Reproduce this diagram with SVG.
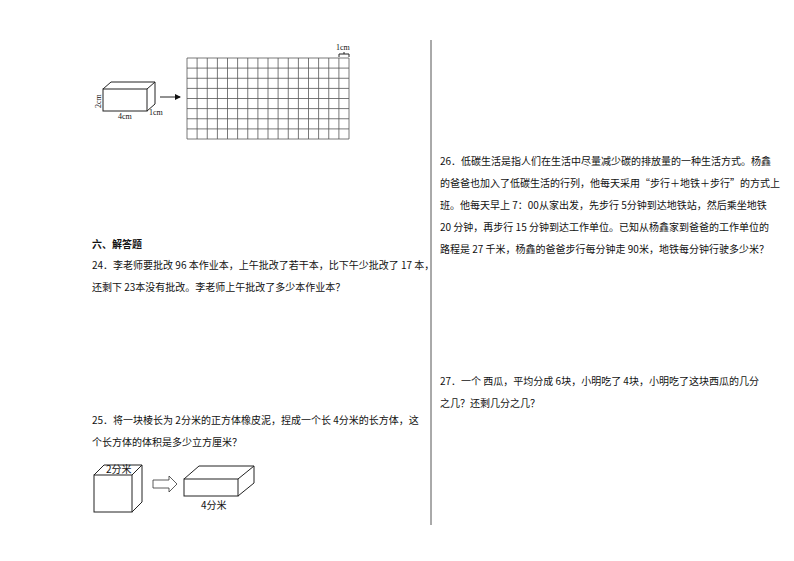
<svg xmlns="http://www.w3.org/2000/svg" width="794" height="561" viewBox="0 0 794 561">
<style>
text{font-family:"Noto Sans CJK SC","Liberation Serif",serif;font-size:10px;fill:#111}
.s{fill:none;stroke:#222;stroke-width:1}
.g{fill:none;stroke:#555;stroke-width:0.8}
.sm{font-family:"Liberation Serif",serif;font-size:8px}
</style>
<defs><marker id="a" markerWidth="6" markerHeight="6" refX="5" refY="3" orient="auto"><path d="M0,0L6,3L0,6z" fill="#111"/></marker></defs>
<rect width="794" height="561" fill="#fff"/>
<line x1="431" y1="40" x2="431" y2="525" stroke="#555" stroke-width="1"/>
<g id="box1"><rect x="103" y="89" width="44" height="22" class="s"/><path d="M103,89L111,82H155V104L147,111M147,89L155,82" class="s"/>
<text class="sm" x="118" y="119">4cm</text><text class="sm" x="149" y="115">1cm</text><text class="sm" transform="translate(101,108) rotate(-90)">2cm</text></g>
<g id="grid1"><path class="g" d="M187,58H349M187,68.1H349M187,78.25H349M187,88.4H349M187,98.5H349M187,108.6H349M187,118.75H349M187,128.9H349M187,139H349
M187,58V139M197.1,58V139M207.25,58V139M217.4,58V139M227.5,58V139M237.6,58V139M247.75,58V139M257.9,58V139M268,58V139M278.1,58V139M288.25,58V139M298.4,58V139M308.5,58V139M318.6,58V139M328.75,58V139M338.9,58V139M349,58V139"/>
<path d="M339,57V54H349V57M344,54V52" class="s" stroke-width="0.6"/><text class="sm" x="336" y="50">1cm</text></g>
<g id="connectors"><line x1="160" y1="97" x2="180" y2="97" class="s" marker-end="url(#a)"/>
<path d="M153,480H169V476L177,484L169,492V488H153Z" fill="#fff" stroke="#333" stroke-width="0.8"/></g>
<g id="cube"><rect x="94" y="475" width="38" height="37" class="s"/><path d="M94,475L104,465H142V502L132,512M132,475L142,465" class="s"/><text x="106" y="473" font-size="9">2分米</text></g>
<g id="cuboid"><rect x="184" y="479" width="54" height="17" class="s"/><path d="M184,479L199,466H254V483L238,496M238,479L254,466" class="s"/><text x="201" y="509" font-size="9">4分米</text></g>
<g id="q"><text x="92" y="248" font-weight="bold">六、解答题</text>
<text x="92" y="269">24．李老师要批改 96 本作业本，上午批改了若干本，比下午少批改了 17 本，</text>
<text x="92" y="291">还剩下 23本没有批改。李老师上午批改了多少本作业本？</text>
<text x="92" y="424">25．将一块棱长为 2分米的正方体橡皮泥，捏成一个长 4分米的长方体，这</text>
<text x="92" y="446">个长方体的体积是多少立方厘米？</text>
<text x="440" y="165">26．低碳生活是指人们在生活中尽量减少碳的排放量的一种生活方式。杨鑫</text>
<text x="440" y="187">的爸爸也加入了低碳生活的行列，他每天采用“步行＋地铁＋步行”的方式上</text>
<text x="440" y="209">班。他每天早上 7：00从家出发，先步行 5分钟到达地铁站，然后乘坐地铁</text>
<text x="440" y="231">20 分钟，再步行 15 分钟到达工作单位。已知从杨鑫家到爸爸的工作单位的</text>
<text x="440" y="253">路程是 27 千米，杨鑫的爸爸步行每分钟走 90米，地铁每分钟行驶多少米？</text>
<text x="440" y="385">27．一个 西瓜，平均分成 6块，小明吃了 4块，小明吃了这块西瓜的几分</text>
<text x="440" y="407">之几？还剩几分之几？</text></g>
</svg>
